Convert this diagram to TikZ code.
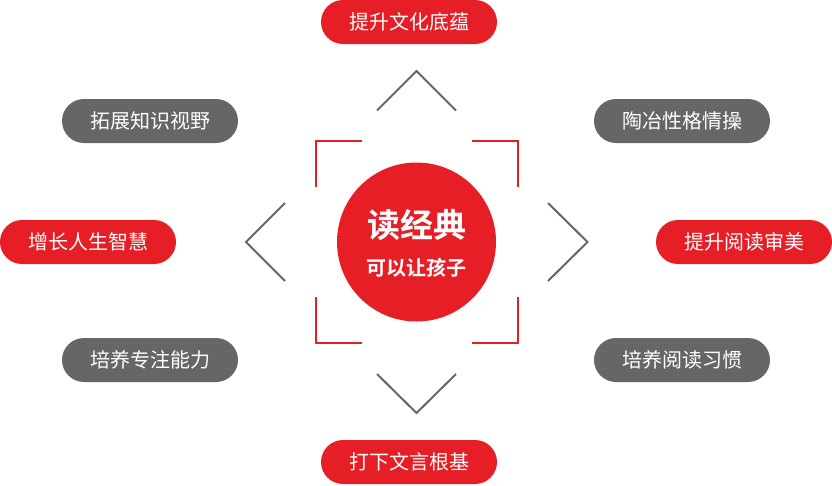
\documentclass[tikz,border=0pt]{standalone}
\usepackage{fontspec}
\newfontfamily\cjk{Noto Sans CJK SC}
\newfontfamily\cjkb{Noto Sans CJK SC Bold}
\definecolor{myred}{HTML}{E61F27}
\definecolor{mygray}{HTML}{666666}
\tikzset{
  pill/.style={rectangle, rounded corners=22pt, minimum width=176pt, minimum height=44pt, inner sep=0pt, text=white, font=\cjk\fontsize{20}{22}\selectfont},
  redpill/.style={pill, fill=myred},
  graypill/.style={pill, fill=mygray},
  chev/.style={draw=mygray, line width=2pt},
  brk/.style={draw=myred, line width=2pt},
}
\begin{document}
\begin{tikzpicture}[x=1pt,y=-1pt]
\useasboundingbox (0,0) rectangle (832,485);
% center circle
\node[circle, fill=myred, minimum size=159pt, inner sep=0pt] (c) at (416.5,242) {};
\node[text=white, font=\cjkb\fontsize{33}{36}\selectfont, inner sep=0pt] (t1) at (416.5,225) {读经典};
\node[text=white, font=\cjkb\fontsize{20}{22}\selectfont, inner sep=0pt] (t2) at (416.5,268) {可以让孩子};
% brackets
\draw[brk] (316,187) -- (316,141) -- (362,141);
\draw[brk] (472,141) -- (518,141) -- (518,187);
\draw[brk] (316,297) -- (316,343) -- (362,343);
\draw[brk] (472,343) -- (518,343) -- (518,297);
% chevrons
\draw[chev] (377,110.5) -- (416.5,71) -- (456,110.5);
\draw[chev] (377,374) -- (416.5,413) -- (456,374);
\draw[chev] (285,203) -- (246,242) -- (285,281);
\draw[chev] (548,203) -- (587.5,242) -- (548,281);
% pills
\node[redpill] (p1) at (409,22) {提升文化底蕴};
\node[graypill] (p2) at (150,121) {拓展知识视野};
\node[graypill] (p3) at (682,121) {陶冶性格情操};
\node[redpill] (p4) at (88,242) {增长人生智慧};
\node[redpill] (p5) at (744,242) {提升阅读审美};
\node[graypill] (p6) at (150,360) {培养专注能力};
\node[graypill] (p7) at (682,360) {培养阅读习惯};
\node[redpill] (p8) at (409,462) {打下文言根基};
\end{tikzpicture}
\end{document}
